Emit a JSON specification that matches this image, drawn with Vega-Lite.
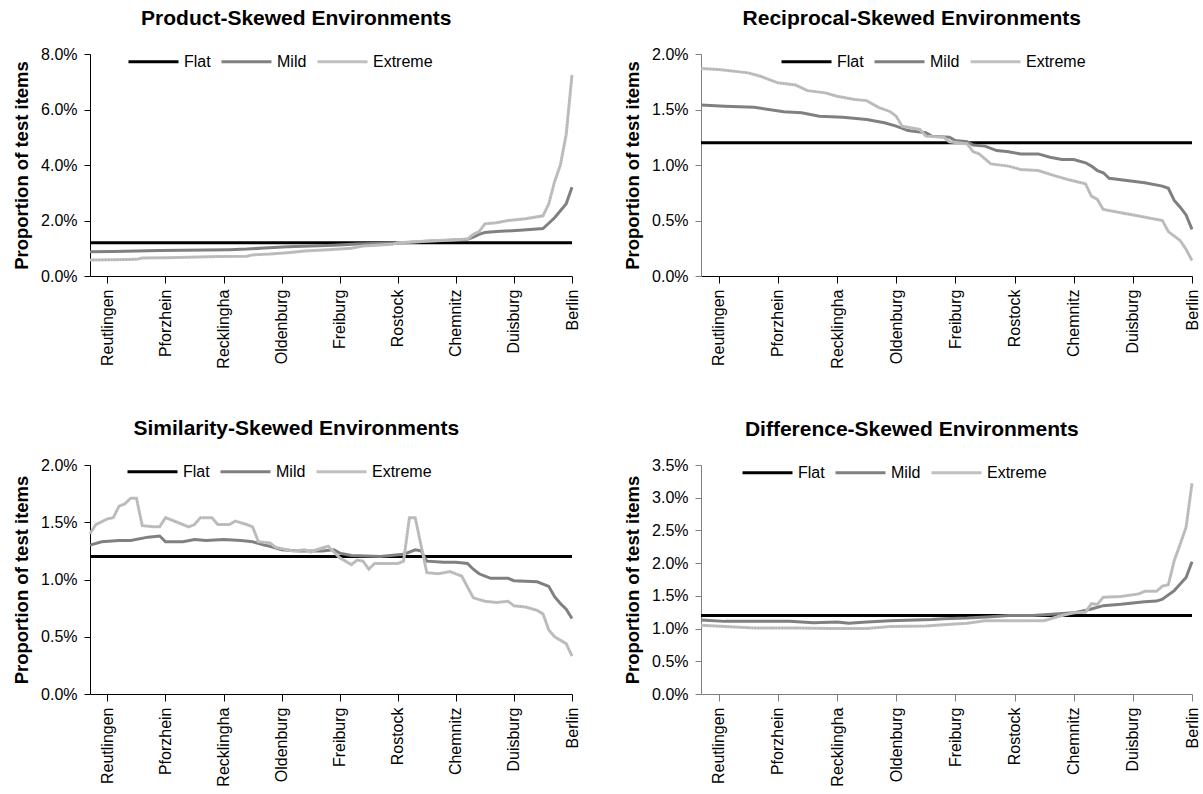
{
  "$schema": "https://vega.github.io/schema/vega-lite/v6.json",
  "background": "white",
  "padding": {"left": 12, "top": 8, "right": 5, "bottom": 2},
  "config": {
    "font": "Liberation Sans",
    "view": {"stroke": null},
    "axis": {"labelFont": "Liberation Sans", "titleFont": "Liberation Sans", "labelColor": "black", "titleColor": "black", "grid": false},
    "title": {"font": "Liberation Sans", "fontSize": 21, "fontWeight": "bold", "color": "black", "anchor": "middle", "frame": "bounds", "offset": 6},
    "legend": {"orient": "none", "direction": "horizontal", "symbolType": "stroke", "symbolSize": 2500, "symbolStrokeWidth": 3, "labelFontSize": 16, "labelFont": "Liberation Sans", "labelColor": "black", "labelOffset": 4, "columnPadding": 4, "padding": 0, "title": null}
  },
  "datasets": {
    "d": [
      {"p":"A","s":"Flat","i":0,"v":1.2},{"p":"A","s":"Flat","i":83,"v":1.2},
      {"p":"B","s":"Flat","i":0,"v":1.2},{"p":"B","s":"Flat","i":83,"v":1.2},
      {"p":"C","s":"Flat","i":0,"v":1.2},{"p":"C","s":"Flat","i":83,"v":1.2},
      {"p":"D","s":"Flat","i":0,"v":1.2},{"p":"D","s":"Flat","i":83,"v":1.2},

      {"p":"A","s":"Mild","i":0,"v":0.87},{"p":"A","s":"Mild","i":4,"v":0.88},{"p":"A","s":"Mild","i":8,"v":0.9},{"p":"A","s":"Mild","i":12,"v":0.92},{"p":"A","s":"Mild","i":16,"v":0.93},{"p":"A","s":"Mild","i":20,"v":0.94},{"p":"A","s":"Mild","i":24,"v":0.95},{"p":"A","s":"Mild","i":27,"v":0.97},{"p":"A","s":"Mild","i":30,"v":1.01},{"p":"A","s":"Mild","i":34,"v":1.05},{"p":"A","s":"Mild","i":38,"v":1.08},{"p":"A","s":"Mild","i":42,"v":1.11},{"p":"A","s":"Mild","i":46,"v":1.15},{"p":"A","s":"Mild","i":50,"v":1.18},{"p":"A","s":"Mild","i":54,"v":1.2},{"p":"A","s":"Mild","i":58,"v":1.25},{"p":"A","s":"Mild","i":62,"v":1.29},{"p":"A","s":"Mild","i":65,"v":1.32},{"p":"A","s":"Mild","i":66,"v":1.4},{"p":"A","s":"Mild","i":67,"v":1.5},{"p":"A","s":"Mild","i":68,"v":1.57},{"p":"A","s":"Mild","i":70,"v":1.6},{"p":"A","s":"Mild","i":74,"v":1.65},{"p":"A","s":"Mild","i":78,"v":1.71},{"p":"A","s":"Mild","i":79,"v":1.9},{"p":"A","s":"Mild","i":80,"v":2.1},{"p":"A","s":"Mild","i":81,"v":2.35},{"p":"A","s":"Mild","i":82,"v":2.6},{"p":"A","s":"Mild","i":83,"v":3.2},

      {"p":"A","s":"Extreme","i":0,"v":0.58},{"p":"A","s":"Extreme","i":4,"v":0.59},{"p":"A","s":"Extreme","i":8,"v":0.6},{"p":"A","s":"Extreme","i":9,"v":0.65},{"p":"A","s":"Extreme","i":13,"v":0.66},{"p":"A","s":"Extreme","i":17,"v":0.68},{"p":"A","s":"Extreme","i":22,"v":0.7},{"p":"A","s":"Extreme","i":27,"v":0.71},{"p":"A","s":"Extreme","i":28,"v":0.76},{"p":"A","s":"Extreme","i":31,"v":0.79},{"p":"A","s":"Extreme","i":34,"v":0.84},{"p":"A","s":"Extreme","i":37,"v":0.9},{"p":"A","s":"Extreme","i":41,"v":0.95},{"p":"A","s":"Extreme","i":45,"v":1.0},{"p":"A","s":"Extreme","i":47,"v":1.08},{"p":"A","s":"Extreme","i":50,"v":1.12},{"p":"A","s":"Extreme","i":52,"v":1.14},{"p":"A","s":"Extreme","i":53,"v":1.2},{"p":"A","s":"Extreme","i":56,"v":1.23},{"p":"A","s":"Extreme","i":59,"v":1.27},{"p":"A","s":"Extreme","i":62,"v":1.3},{"p":"A","s":"Extreme","i":65,"v":1.33},{"p":"A","s":"Extreme","i":66,"v":1.5},{"p":"A","s":"Extreme","i":67,"v":1.6},{"p":"A","s":"Extreme","i":68,"v":1.88},{"p":"A","s":"Extreme","i":70,"v":1.92},{"p":"A","s":"Extreme","i":72,"v":2.0},{"p":"A","s":"Extreme","i":75,"v":2.06},{"p":"A","s":"Extreme","i":78,"v":2.17},{"p":"A","s":"Extreme","i":79,"v":2.6},{"p":"A","s":"Extreme","i":80,"v":3.4},{"p":"A","s":"Extreme","i":81,"v":4.0},{"p":"A","s":"Extreme","i":82,"v":5.1},{"p":"A","s":"Extreme","i":83,"v":7.25},

      {"p":"B","s":"Mild","i":0,"v":1.54},{"p":"B","s":"Mild","i":4,"v":1.53},{"p":"B","s":"Mild","i":9,"v":1.52},{"p":"B","s":"Mild","i":14,"v":1.48},{"p":"B","s":"Mild","i":17,"v":1.47},{"p":"B","s":"Mild","i":20,"v":1.44},{"p":"B","s":"Mild","i":24,"v":1.43},{"p":"B","s":"Mild","i":28,"v":1.41},{"p":"B","s":"Mild","i":31,"v":1.38},{"p":"B","s":"Mild","i":33,"v":1.35},{"p":"B","s":"Mild","i":35,"v":1.31},{"p":"B","s":"Mild","i":38,"v":1.29},{"p":"B","s":"Mild","i":39,"v":1.26},{"p":"B","s":"Mild","i":42,"v":1.25},{"p":"B","s":"Mild","i":43,"v":1.22},{"p":"B","s":"Mild","i":45,"v":1.21},{"p":"B","s":"Mild","i":46,"v":1.18},{"p":"B","s":"Mild","i":48,"v":1.17},{"p":"B","s":"Mild","i":50,"v":1.13},{"p":"B","s":"Mild","i":52,"v":1.12},{"p":"B","s":"Mild","i":54,"v":1.1},{"p":"B","s":"Mild","i":57,"v":1.1},{"p":"B","s":"Mild","i":59,"v":1.07},{"p":"B","s":"Mild","i":61,"v":1.05},{"p":"B","s":"Mild","i":63,"v":1.05},{"p":"B","s":"Mild","i":65,"v":1.02},{"p":"B","s":"Mild","i":66,"v":0.99},{"p":"B","s":"Mild","i":67,"v":0.95},{"p":"B","s":"Mild","i":68,"v":0.93},{"p":"B","s":"Mild","i":69,"v":0.88},{"p":"B","s":"Mild","i":72,"v":0.86},{"p":"B","s":"Mild","i":75,"v":0.84},{"p":"B","s":"Mild","i":78,"v":0.81},{"p":"B","s":"Mild","i":79,"v":0.79},{"p":"B","s":"Mild","i":80,"v":0.68},{"p":"B","s":"Mild","i":81,"v":0.62},{"p":"B","s":"Mild","i":82,"v":0.55},{"p":"B","s":"Mild","i":83,"v":0.42},

      {"p":"B","s":"Extreme","i":0,"v":1.87},{"p":"B","s":"Extreme","i":3,"v":1.86},{"p":"B","s":"Extreme","i":8,"v":1.83},{"p":"B","s":"Extreme","i":10,"v":1.8},{"p":"B","s":"Extreme","i":13,"v":1.74},{"p":"B","s":"Extreme","i":16,"v":1.72},{"p":"B","s":"Extreme","i":18,"v":1.67},{"p":"B","s":"Extreme","i":21,"v":1.65},{"p":"B","s":"Extreme","i":23,"v":1.62},{"p":"B","s":"Extreme","i":26,"v":1.59},{"p":"B","s":"Extreme","i":28,"v":1.58},{"p":"B","s":"Extreme","i":30,"v":1.52},{"p":"B","s":"Extreme","i":32,"v":1.48},{"p":"B","s":"Extreme","i":33,"v":1.44},{"p":"B","s":"Extreme","i":34,"v":1.35},{"p":"B","s":"Extreme","i":37,"v":1.32},{"p":"B","s":"Extreme","i":38,"v":1.26},{"p":"B","s":"Extreme","i":41,"v":1.25},{"p":"B","s":"Extreme","i":42,"v":1.21},{"p":"B","s":"Extreme","i":45,"v":1.19},{"p":"B","s":"Extreme","i":46,"v":1.12},{"p":"B","s":"Extreme","i":47,"v":1.1},{"p":"B","s":"Extreme","i":49,"v":1.01},{"p":"B","s":"Extreme","i":52,"v":0.99},{"p":"B","s":"Extreme","i":54,"v":0.96},{"p":"B","s":"Extreme","i":57,"v":0.95},{"p":"B","s":"Extreme","i":60,"v":0.9},{"p":"B","s":"Extreme","i":62,"v":0.87},{"p":"B","s":"Extreme","i":65,"v":0.83},{"p":"B","s":"Extreme","i":66,"v":0.72},{"p":"B","s":"Extreme","i":67,"v":0.69},{"p":"B","s":"Extreme","i":68,"v":0.6},{"p":"B","s":"Extreme","i":71,"v":0.57},{"p":"B","s":"Extreme","i":74,"v":0.54},{"p":"B","s":"Extreme","i":78,"v":0.5},{"p":"B","s":"Extreme","i":79,"v":0.4},{"p":"B","s":"Extreme","i":81,"v":0.32},{"p":"B","s":"Extreme","i":82,"v":0.24},{"p":"B","s":"Extreme","i":83,"v":0.14},

      {"p":"C","s":"Mild","i":0,"v":1.3},{"p":"C","s":"Mild","i":2,"v":1.33},{"p":"C","s":"Mild","i":5,"v":1.34},{"p":"C","s":"Mild","i":7,"v":1.34},{"p":"C","s":"Mild","i":10,"v":1.37},{"p":"C","s":"Mild","i":12,"v":1.38},{"p":"C","s":"Mild","i":13,"v":1.33},{"p":"C","s":"Mild","i":16,"v":1.33},{"p":"C","s":"Mild","i":18,"v":1.35},{"p":"C","s":"Mild","i":20,"v":1.34},{"p":"C","s":"Mild","i":23,"v":1.35},{"p":"C","s":"Mild","i":26,"v":1.34},{"p":"C","s":"Mild","i":28,"v":1.33},{"p":"C","s":"Mild","i":30,"v":1.3},{"p":"C","s":"Mild","i":31,"v":1.29},{"p":"C","s":"Mild","i":33,"v":1.26},{"p":"C","s":"Mild","i":36,"v":1.25},{"p":"C","s":"Mild","i":40,"v":1.25},{"p":"C","s":"Mild","i":42,"v":1.26},{"p":"C","s":"Mild","i":43,"v":1.23},{"p":"C","s":"Mild","i":45,"v":1.21},{"p":"C","s":"Mild","i":50,"v":1.2},{"p":"C","s":"Mild","i":54,"v":1.22},{"p":"C","s":"Mild","i":56,"v":1.26},{"p":"C","s":"Mild","i":57,"v":1.25},{"p":"C","s":"Mild","i":58,"v":1.16},{"p":"C","s":"Mild","i":61,"v":1.15},{"p":"C","s":"Mild","i":63,"v":1.15},{"p":"C","s":"Mild","i":65,"v":1.14},{"p":"C","s":"Mild","i":66,"v":1.09},{"p":"C","s":"Mild","i":67,"v":1.05},{"p":"C","s":"Mild","i":69,"v":1.01},{"p":"C","s":"Mild","i":72,"v":1.01},{"p":"C","s":"Mild","i":73,"v":0.99},{"p":"C","s":"Mild","i":77,"v":0.98},{"p":"C","s":"Mild","i":79,"v":0.94},{"p":"C","s":"Mild","i":80,"v":0.85},{"p":"C","s":"Mild","i":81,"v":0.79},{"p":"C","s":"Mild","i":82,"v":0.74},{"p":"C","s":"Mild","i":83,"v":0.66},

      {"p":"C","s":"Extreme","i":0,"v":1.4},{"p":"C","s":"Extreme","i":1,"v":1.48},{"p":"C","s":"Extreme","i":3,"v":1.53},{"p":"C","s":"Extreme","i":4,"v":1.54},{"p":"C","s":"Extreme","i":5,"v":1.64},{"p":"C","s":"Extreme","i":6,"v":1.66},{"p":"C","s":"Extreme","i":7,"v":1.71},{"p":"C","s":"Extreme","i":8,"v":1.71},{"p":"C","s":"Extreme","i":9,"v":1.47},{"p":"C","s":"Extreme","i":11,"v":1.46},{"p":"C","s":"Extreme","i":12,"v":1.46},{"p":"C","s":"Extreme","i":13,"v":1.54},{"p":"C","s":"Extreme","i":15,"v":1.5},{"p":"C","s":"Extreme","i":17,"v":1.46},{"p":"C","s":"Extreme","i":18,"v":1.48},{"p":"C","s":"Extreme","i":19,"v":1.54},{"p":"C","s":"Extreme","i":21,"v":1.54},{"p":"C","s":"Extreme","i":22,"v":1.48},{"p":"C","s":"Extreme","i":24,"v":1.48},{"p":"C","s":"Extreme","i":25,"v":1.51},{"p":"C","s":"Extreme","i":27,"v":1.48},{"p":"C","s":"Extreme","i":28,"v":1.46},{"p":"C","s":"Extreme","i":29,"v":1.33},{"p":"C","s":"Extreme","i":31,"v":1.32},{"p":"C","s":"Extreme","i":32,"v":1.28},{"p":"C","s":"Extreme","i":35,"v":1.25},{"p":"C","s":"Extreme","i":37,"v":1.26},{"p":"C","s":"Extreme","i":38,"v":1.24},{"p":"C","s":"Extreme","i":39,"v":1.26},{"p":"C","s":"Extreme","i":41,"v":1.29},{"p":"C","s":"Extreme","i":42,"v":1.24},{"p":"C","s":"Extreme","i":43,"v":1.19},{"p":"C","s":"Extreme","i":45,"v":1.13},{"p":"C","s":"Extreme","i":46,"v":1.17},{"p":"C","s":"Extreme","i":47,"v":1.16},{"p":"C","s":"Extreme","i":48,"v":1.09},{"p":"C","s":"Extreme","i":49,"v":1.14},{"p":"C","s":"Extreme","i":53,"v":1.14},{"p":"C","s":"Extreme","i":54,"v":1.16},{"p":"C","s":"Extreme","i":55,"v":1.54},{"p":"C","s":"Extreme","i":56,"v":1.54},{"p":"C","s":"Extreme","i":57,"v":1.3},{"p":"C","s":"Extreme","i":58,"v":1.06},{"p":"C","s":"Extreme","i":60,"v":1.05},{"p":"C","s":"Extreme","i":62,"v":1.07},{"p":"C","s":"Extreme","i":63,"v":1.05},{"p":"C","s":"Extreme","i":64,"v":1.03},{"p":"C","s":"Extreme","i":66,"v":0.84},{"p":"C","s":"Extreme","i":68,"v":0.81},{"p":"C","s":"Extreme","i":70,"v":0.8},{"p":"C","s":"Extreme","i":72,"v":0.81},{"p":"C","s":"Extreme","i":73,"v":0.77},{"p":"C","s":"Extreme","i":75,"v":0.76},{"p":"C","s":"Extreme","i":77,"v":0.73},{"p":"C","s":"Extreme","i":78,"v":0.7},{"p":"C","s":"Extreme","i":79,"v":0.56},{"p":"C","s":"Extreme","i":80,"v":0.5},{"p":"C","s":"Extreme","i":82,"v":0.44},{"p":"C","s":"Extreme","i":83,"v":0.33},

      {"p":"D","s":"Mild","i":0,"v":1.13},{"p":"D","s":"Mild","i":4,"v":1.11},{"p":"D","s":"Mild","i":15,"v":1.11},{"p":"D","s":"Mild","i":19,"v":1.09},{"p":"D","s":"Mild","i":23,"v":1.1},{"p":"D","s":"Mild","i":25,"v":1.08},{"p":"D","s":"Mild","i":28,"v":1.1},{"p":"D","s":"Mild","i":32,"v":1.12},{"p":"D","s":"Mild","i":39,"v":1.14},{"p":"D","s":"Mild","i":41,"v":1.15},{"p":"D","s":"Mild","i":45,"v":1.16},{"p":"D","s":"Mild","i":49,"v":1.18},{"p":"D","s":"Mild","i":52,"v":1.2},{"p":"D","s":"Mild","i":56,"v":1.2},{"p":"D","s":"Mild","i":58,"v":1.21},{"p":"D","s":"Mild","i":63,"v":1.24},{"p":"D","s":"Mild","i":66,"v":1.3},{"p":"D","s":"Mild","i":68,"v":1.35},{"p":"D","s":"Mild","i":71,"v":1.37},{"p":"D","s":"Mild","i":73,"v":1.39},{"p":"D","s":"Mild","i":75,"v":1.41},{"p":"D","s":"Mild","i":77,"v":1.42},{"p":"D","s":"Mild","i":78,"v":1.45},{"p":"D","s":"Mild","i":80,"v":1.58},{"p":"D","s":"Mild","i":81,"v":1.68},{"p":"D","s":"Mild","i":82,"v":1.78},{"p":"D","s":"Mild","i":83,"v":2.02},

      {"p":"D","s":"Extreme","i":0,"v":1.05},{"p":"D","s":"Extreme","i":4,"v":1.03},{"p":"D","s":"Extreme","i":9,"v":1.01},{"p":"D","s":"Extreme","i":16,"v":1.01},{"p":"D","s":"Extreme","i":22,"v":1.0},{"p":"D","s":"Extreme","i":28,"v":1.0},{"p":"D","s":"Extreme","i":32,"v":1.03},{"p":"D","s":"Extreme","i":38,"v":1.04},{"p":"D","s":"Extreme","i":41,"v":1.06},{"p":"D","s":"Extreme","i":45,"v":1.08},{"p":"D","s":"Extreme","i":48,"v":1.12},{"p":"D","s":"Extreme","i":51,"v":1.12},{"p":"D","s":"Extreme","i":58,"v":1.12},{"p":"D","s":"Extreme","i":61,"v":1.2},{"p":"D","s":"Extreme","i":63,"v":1.24},{"p":"D","s":"Extreme","i":65,"v":1.25},{"p":"D","s":"Extreme","i":66,"v":1.38},{"p":"D","s":"Extreme","i":67,"v":1.37},{"p":"D","s":"Extreme","i":68,"v":1.48},{"p":"D","s":"Extreme","i":71,"v":1.49},{"p":"D","s":"Extreme","i":74,"v":1.53},{"p":"D","s":"Extreme","i":75,"v":1.57},{"p":"D","s":"Extreme","i":77,"v":1.57},{"p":"D","s":"Extreme","i":78,"v":1.65},{"p":"D","s":"Extreme","i":79,"v":1.67},{"p":"D","s":"Extreme","i":80,"v":2.04},{"p":"D","s":"Extreme","i":81,"v":2.29},{"p":"D","s":"Extreme","i":82,"v":2.55},{"p":"D","s":"Extreme","i":83,"v":3.22}
    ]
  },
  "resolve": {"scale": {"color": "independent"}, "legend": {"color": "independent"}},
  "spacing": 49,
  "vconcat": [
    {
      "spacing": 42,
      "resolve": {"scale": {"color": "independent"}, "legend": {"color": "independent"}},
      "hconcat": [
        {
          "title": {"text": "Product-Skewed Environments"},
          "width": 482, "height": 222,
          "data": {"name": "d"},
          "transform": [{"filter": "datum.p == 'A'"}],
          "encoding": {
            "x": {"field": "i", "type": "quantitative", "scale": {"domain": [0, 83], "nice": false, "zero": false}, "axis": {"title": null, "values": [3,13,23,33,43,53,63,73,83], "labelExpr": "['Reutlingen','Pforzhein','Recklingha','Oldenburg','Freiburg','Rostock','Chemnitz','Duisburg','Berlin'][(datum.value-3)/10]", "labelAngle": -90, "labelFontSize": 16, "tickSize": 7, "labelPadding": 6, "domainColor": "black", "tickColor": "black", "labelOverlap": false, "labelBound": false}},
            "y": {"field": "v", "type": "quantitative", "scale": {"domain": [0, 8], "nice": false}, "axis": {"title": "Proportion of test items", "titleFontSize": 18.5, "titleFontWeight": "bold", "titlePadding": 9, "values": [0,2,4,6,8], "labelExpr": "format(datum.value,'.1f')+'%'", "labelFontSize": 16, "tickSize": 6, "labelPadding": 7, "domainColor": "black", "tickColor": "black"}},
            "color": {"field": "s", "type": "nominal", "scale": {"domain": ["Flat","Mild","Extreme"], "range": ["#000000","#808080","#c0c0c0"]}, "legend": {"legendX": 37, "legendY": -19}}
          },
          "layer": [
            {"transform": [{"filter": "datum.s == 'Flat'"}], "mark": {"type": "line", "strokeWidth": 3}},
            {"transform": [{"filter": "datum.s == 'Mild'"}], "mark": {"type": "line", "strokeWidth": 3}},
            {"transform": [{"filter": "datum.s == 'Extreme'"}], "mark": {"type": "line", "strokeWidth": 3}},
            {"transform": [{"filter": "datum.s == 'Extreme'"}], "mark": {"type": "line", "strokeWidth": 1, "strokeDash": [1, 2], "color": "#a6a6a6"}, "encoding": {"color": {"value": "#a6a6a6"}}}
          ]
        },
        {
          "title": {"text": "Reciprocal-Skewed Environments"},
          "width": 491, "height": 222,
          "data": {"name": "d"},
          "transform": [{"filter": "datum.p == 'B'"}],
          "encoding": {
            "x": {"field": "i", "type": "quantitative", "scale": {"domain": [0, 83], "nice": false, "zero": false}, "axis": {"title": null, "values": [3,13,23,33,43,53,63,73,83], "labelExpr": "['Reutlingen','Pforzhein','Recklingha','Oldenburg','Freiburg','Rostock','Chemnitz','Duisburg','Berlin'][(datum.value-3)/10]", "labelAngle": -90, "labelFontSize": 16, "tickSize": 7, "labelPadding": 6, "domainColor": "black", "tickColor": "black", "labelOverlap": false, "labelBound": false}},
            "y": {"field": "v", "type": "quantitative", "scale": {"domain": [0, 2], "nice": false}, "axis": {"title": "Proportion of test items", "titleFontSize": 18.5, "titleFontWeight": "bold", "titlePadding": 9, "values": [0,0.5,1,1.5,2], "labelExpr": "format(datum.value,'.1f')+'%'", "labelFontSize": 16, "tickSize": 6, "labelPadding": 7, "domainColor": "#808080", "tickColor": "#808080"}},
            "color": {"field": "s", "type": "nominal", "scale": {"domain": ["Flat","Mild","Extreme"], "range": ["#000000","#808080","#c0c0c0"]}, "legend": {"legendX": 79, "legendY": -19}}
          },
          "layer": [
            {"transform": [{"filter": "datum.s == 'Flat'"}], "mark": {"type": "line", "strokeWidth": 3}},
            {"transform": [{"filter": "datum.s == 'Mild'"}], "mark": {"type": "line", "strokeWidth": 3}},
            {"transform": [{"filter": "datum.s == 'Extreme'"}], "mark": {"type": "line", "strokeWidth": 3}},
            {"transform": [{"filter": "datum.s == 'Extreme'"}], "mark": {"type": "line", "strokeWidth": 1, "strokeDash": [1, 2], "color": "#a6a6a6"}, "encoding": {"color": {"value": "#a6a6a6"}}}
          ]
        }
      ]
    },
    {
      "spacing": 42,
      "resolve": {"scale": {"color": "independent"}, "legend": {"color": "independent"}},
      "hconcat": [
        {
          "title": {"text": "Similarity-Skewed Environments"},
          "width": 482, "height": 229,
          "data": {"name": "d"},
          "transform": [{"filter": "datum.p == 'C'"}],
          "encoding": {
            "x": {"field": "i", "type": "quantitative", "scale": {"domain": [0, 83], "nice": false, "zero": false}, "axis": {"title": null, "values": [3,13,23,33,43,53,63,73,83], "labelExpr": "['Reutlingen','Pforzhein','Recklingha','Oldenburg','Freiburg','Rostock','Chemnitz','Duisburg','Berlin'][(datum.value-3)/10]", "labelAngle": -90, "labelFontSize": 16, "tickSize": 7, "labelPadding": 6, "domainColor": "black", "tickColor": "black", "labelOverlap": false, "labelBound": false}},
            "y": {"field": "v", "type": "quantitative", "scale": {"domain": [0, 2], "nice": false}, "axis": {"title": "Proportion of test items", "titleFontSize": 18.5, "titleFontWeight": "bold", "titlePadding": 9, "values": [0,0.5,1,1.5,2], "labelExpr": "format(datum.value,'.1f')+'%'", "labelFontSize": 16, "tickSize": 6, "labelPadding": 7, "domainColor": "black", "tickColor": "black"}},
            "color": {"field": "s", "type": "nominal", "scale": {"domain": ["Flat","Mild","Extreme"], "range": ["#000000","#808080","#c0c0c0"]}, "legend": {"legendX": 36, "legendY": -20}}
          },
          "layer": [
            {"transform": [{"filter": "datum.s == 'Flat'"}], "mark": {"type": "line", "strokeWidth": 3}},
            {"transform": [{"filter": "datum.s == 'Mild'"}], "mark": {"type": "line", "strokeWidth": 3}},
            {"transform": [{"filter": "datum.s == 'Extreme'"}], "mark": {"type": "line", "strokeWidth": 3}},
            {"transform": [{"filter": "datum.s == 'Extreme'"}], "mark": {"type": "line", "strokeWidth": 1, "strokeDash": [1, 2], "color": "#a6a6a6"}, "encoding": {"color": {"value": "#a6a6a6"}}}
          ]
        },
        {
          "title": {"text": "Difference-Skewed Environments"},
          "width": 491, "height": 229,
          "data": {"name": "d"},
          "transform": [{"filter": "datum.p == 'D'"}],
          "encoding": {
            "x": {"field": "i", "type": "quantitative", "scale": {"domain": [0, 83], "nice": false, "zero": false}, "axis": {"title": null, "values": [3,13,23,33,43,53,63,73,83], "labelExpr": "['Reutlingen','Pforzhein','Recklingha','Oldenburg','Freiburg','Rostock','Chemnitz','Duisburg','Berlin'][(datum.value-3)/10]", "labelAngle": -90, "labelFontSize": 16, "tickSize": 7, "labelPadding": 6, "domainColor": "#808080", "tickColor": "#808080", "labelOverlap": false, "labelBound": false}},
            "y": {"field": "v", "type": "quantitative", "scale": {"domain": [0, 3.5], "nice": false}, "axis": {"title": "Proportion of test items", "titleFontSize": 18.5, "titleFontWeight": "bold", "titlePadding": 9, "values": [0,0.5,1,1.5,2,2.5,3,3.5], "labelExpr": "format(datum.value,'.1f')+'%'", "labelFontSize": 16, "tickSize": 6, "labelPadding": 7, "domainColor": "#808080", "tickColor": "#808080"}},
            "color": {"field": "s", "type": "nominal", "scale": {"domain": ["Flat","Mild","Extreme"], "range": ["#000000","#808080","#c0c0c0"]}, "legend": {"legendX": 40, "legendY": -19}}
          },
          "layer": [
            {"transform": [{"filter": "datum.s == 'Flat'"}], "mark": {"type": "line", "strokeWidth": 3}},
            {"transform": [{"filter": "datum.s == 'Mild'"}], "mark": {"type": "line", "strokeWidth": 3}},
            {"transform": [{"filter": "datum.s == 'Extreme'"}], "mark": {"type": "line", "strokeWidth": 3}},
            {"transform": [{"filter": "datum.s == 'Extreme'"}], "mark": {"type": "line", "strokeWidth": 1, "strokeDash": [1, 2], "color": "#a6a6a6"}, "encoding": {"color": {"value": "#a6a6a6"}}}
          ]
        }
      ]
    }
  ]
}
